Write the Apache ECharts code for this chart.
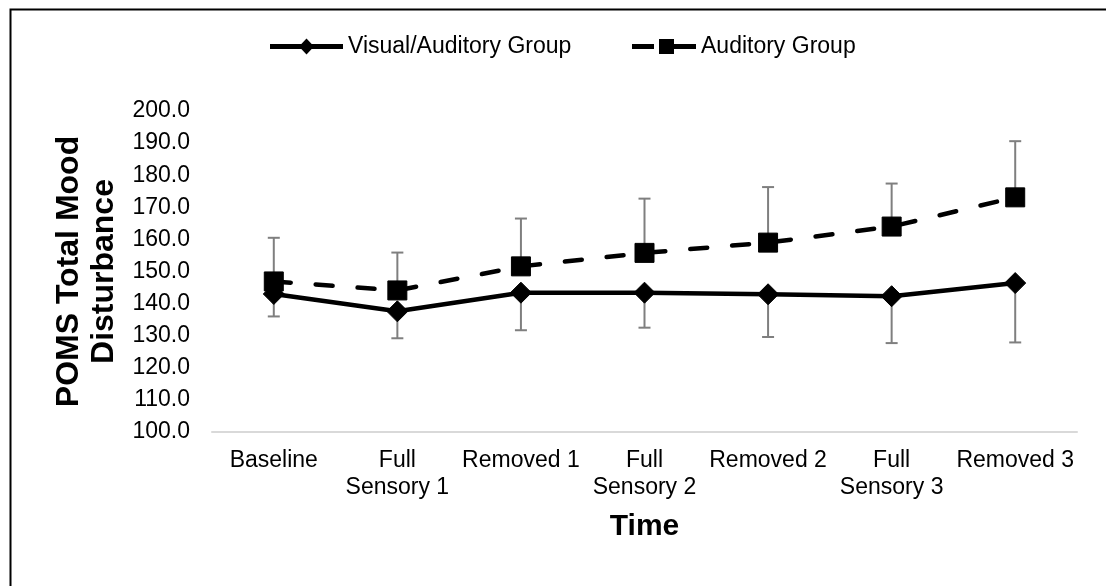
<!DOCTYPE html>
<html>
<head>
<meta charset="utf-8">
<script src="https://cdn.jsdelivr.net/npm/echarts@6/dist/echarts.min.js"></script>
<style>
  html, body { margin: 0; padding: 0; background: #fff; }
  #chart { width: 1106px; height: 586px; }
</style>
</head>
<body>
<div id="chart"></div>
<script>
// Session labels along the time axis
const categories = ['Baseline', 'Full\nSensory 1', 'Removed 1', 'Full\nSensory 2', 'Removed 2', 'Full\nSensory 3', 'Removed 3'];

// Mean POMS total mood disturbance per session
const visualAuditoryMean = [143.0, 137.6, 143.4, 143.4, 142.9, 142.3, 146.4];
const auditoryMean = [146.9, 144.1, 151.6, 155.8, 159.0, 164.0, 173.1];

// Standard deviations (visual/auditory drawn below, auditory drawn above)
const visualAuditorySD = [7.0, 8.4, 11.7, 10.9, 13.3, 14.6, 18.5];
const auditorySD = [13.6, 11.8, 14.9, 16.9, 17.3, 13.4, 17.5];

// Value axis range
const yMin = 100;
const yMax = 200;
const yStep = 10;

const FONT = '"Liberation Sans", Arial, sans-serif';
const ERR_COLOR = '#7f7f7f';

// Legend keys: thick line with a diamond / dashed line with a square
const ICON_SOLID_DIAMOND = 'path://M0,5.5L73,5.5L73,10.5L0,10.5Z M36.5,0L44,8L36.5,16L29,8Z';
const ICON_DASH_SQUARE = 'path://M0,5.5L22,5.5L22,10.5L0,10.5Z M27,0.5L42,0.5L42,15.5L27,15.5Z M42,5.5L64,5.5L64,10.5L42,10.5Z';

// One-sided error bar: vertical stem from the mean to the bound, with a cap
function errorBar(params, api) {
  const x = api.value(0);
  const p0 = api.coord([x, api.value(1)]);
  const p1 = api.coord([x, api.value(2)]);
  const half = 6;
  const style = { stroke: ERR_COLOR, lineWidth: 2 };
  return {
    type: 'group',
    children: [
      { type: 'line', shape: { x1: p0[0], y1: p0[1], x2: p1[0], y2: p1[1] }, style: style },
      { type: 'line', shape: { x1: p1[0] - half, y1: p1[1], x2: p1[0] + half, y2: p1[1] }, style: style }
    ]
  };
}

const vaErrData = visualAuditoryMean.map((m, i) => [i, m, m - visualAuditorySD[i]]);
const auErrData = auditoryMean.map((m, i) => [i, m, m + auditorySD[i]]);

const legendText = { fontSize: 23, color: '#000', fontFamily: FONT };

const chart = echarts.init(document.getElementById('chart'), null, { renderer: 'canvas' });

chart.setOption({
  backgroundColor: '#ffffff',
  animation: false,
  textStyle: { fontFamily: FONT },
  graphic: [{
    type: 'rect',
    left: 8, top: 7,
    shape: { width: 1200, height: 700 },
    style: { fill: 'none', stroke: '#000', lineWidth: 2 },
    silent: true,
    z: -1
  }],
  legend: [
    {
      top: 30,
      left: 265,
      itemWidth: 73,
      itemHeight: 16,
      data: [{ name: 'Visual/Auditory Group', icon: ICON_SOLID_DIAMOND }],
      itemStyle: { color: '#000', borderWidth: 0 },
      textStyle: legendText
    },
    {
      top: 30,
      left: 627,
      itemWidth: 64,
      itemHeight: 16,
      data: [{ name: 'Auditory Group', icon: ICON_DASH_SQUARE }],
      itemStyle: { color: '#000', borderWidth: 0 },
      textStyle: legendText
    }
  ],
  grid: { left: 212, right: 29, top: 111, bottom: 154, containLabel: false },
  xAxis: {
    type: 'category',
    data: categories,
    boundaryGap: true,
    axisLine: { show: true, lineStyle: { color: '#d9d9d9', width: 2 } },
    axisTick: { show: false },
    axisLabel: {
      interval: 0,
      margin: 15,
      fontSize: 23,
      lineHeight: 27,
      color: '#000',
      fontFamily: FONT
    },
    name: 'Time',
    nameLocation: 'middle',
    nameGap: 80,
    nameTextStyle: { fontSize: 30, fontWeight: 'bold', color: '#000', fontFamily: FONT }
  },
  yAxis: {
    type: 'value',
    min: yMin,
    max: yMax,
    interval: yStep,
    axisLine: { show: false },
    axisTick: { show: false },
    splitLine: { show: false },
    axisLabel: {
      margin: 22,
      fontSize: 23,
      color: '#000',
      fontFamily: FONT,
      formatter: v => v.toFixed(1)
    },
    name: 'POMS Total Mood\nDisturbance',
    nameLocation: 'middle',
    nameRotate: 90,
    nameGap: 90,
    nameTextStyle: { fontSize: 32, fontWeight: 'bold', lineHeight: 35, color: '#000', fontFamily: FONT }
  },
  series: [
    {
      type: 'custom',
      name: 'va-sd',
      renderItem: errorBar,
      data: vaErrData,
      encode: { x: 0, y: [1, 2] },
      z: 1,
      silent: true
    },
    {
      type: 'custom',
      name: 'au-sd',
      renderItem: errorBar,
      data: auErrData,
      encode: { x: 0, y: [1, 2] },
      z: 1,
      silent: true
    },
    {
      type: 'line',
      name: 'Visual/Auditory Group',
      data: visualAuditoryMean,
      symbol: 'diamond',
      symbolSize: [21, 21],
      lineStyle: { color: '#000', width: 4.5, type: 'solid', cap: 'round' },
      itemStyle: { color: '#000', borderColor: '#000' },
      z: 3
    },
    {
      type: 'line',
      name: 'Auditory Group',
      data: auditoryMean,
      symbol: 'rect',
      symbolSize: 19,
      lineStyle: { color: '#000', width: 4.5, type: [17, 25], cap: 'round' },
      itemStyle: { color: '#000', borderColor: '#000' },
      z: 4
    }
  ]
});
</script>
</body>
</html>
